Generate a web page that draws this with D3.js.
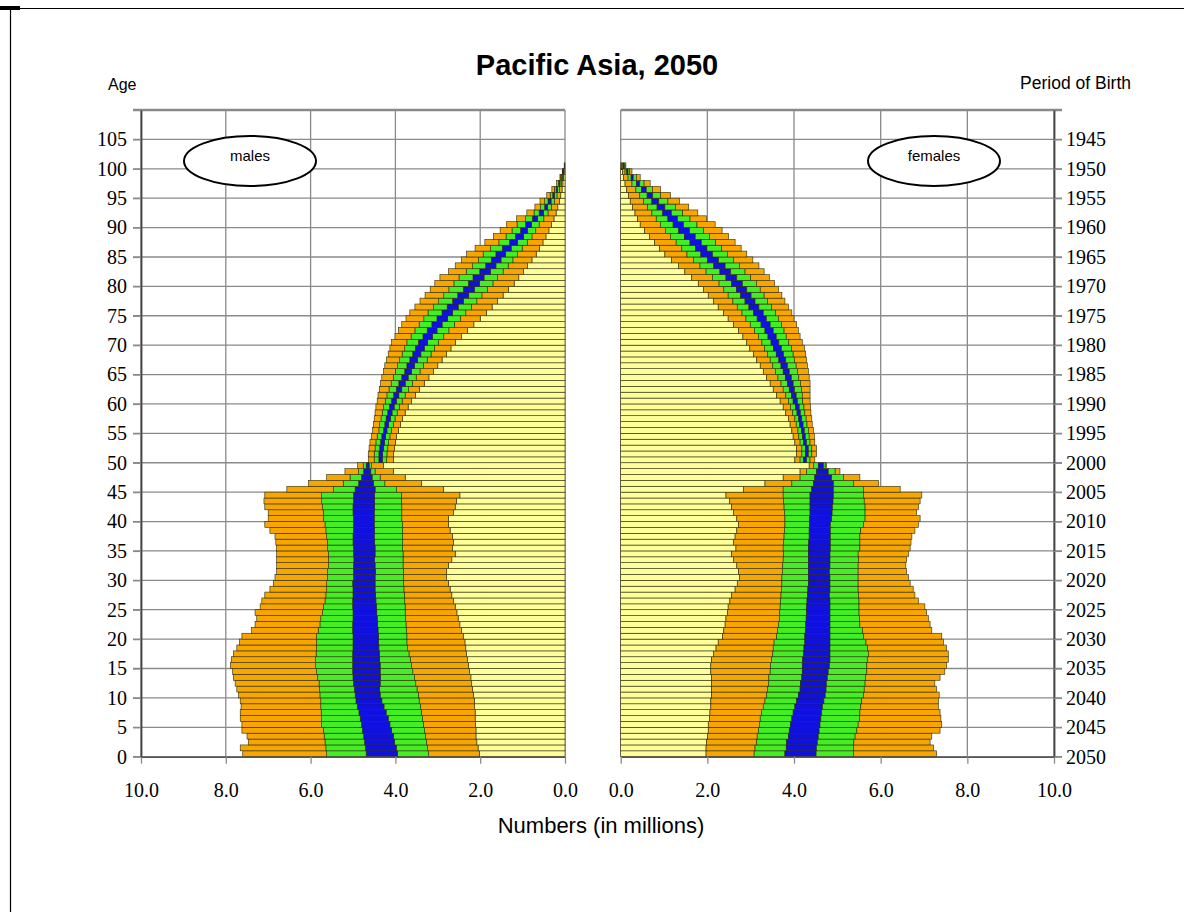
<!DOCTYPE html>
<html><head><meta charset="utf-8">
<script src="https://cdn.jsdelivr.net/npm/d3@7"></script>
<style>body{margin:0;background:#fff}svg{display:block}</style>
</head><body>
<svg id="chart" width="1184" height="912"></svg>
<script>
// ---------- DATA ----------
const ages = d3.range(0, 101);
const ageTicks = d3.range(0, 110, 5);
const birthLabels = ["2050","2045","2040","2035","2030","2025","2020","2015","2010","2005","2000",
  "1995","1990","1985","1980","1975","1970","1965","1960","1955","1950","1945"];
const xTicks = [0, 2, 4, 6, 8, 10];

// males: boundaries of the stacked bands (millions), from the axis outward
const maleL1 = [2.02,2.05,2.08,2.10,2.10,2.11,2.12,2.12,2.13,2.14, 2.16,2.18,2.20,2.22,2.25,2.28,2.30,2.32,2.34,2.36,
 2.40,2.44,2.48,2.52,2.55,2.59,2.63,2.67,2.71,2.75, 2.79,2.79,2.75,2.67,2.59,2.65,2.63,2.65,2.71,2.75,
 2.75,2.63,2.59,2.56,2.48,2.87,3.38,3.77,4.05,4.28,
 4.05,4.04,4.02,4.00,3.97,3.93,3.88,3.83,3.77,3.70, 3.62,3.53,3.43,3.32,3.21,3.10,3.00,2.90,2.79,2.69,
 2.58,2.44,2.30,2.15,2.00,1.85,1.72,1.59,1.46,1.33, 1.20,1.09,0.98,0.88,0.78,0.68,0.60,0.52,0.45,0.38,
 0.32,0.26,0.21,0.17,0.13,0.10,0.07,0.05,0.03,0.02, 0.01];
const maleL2 = [3.22,3.24,3.27,3.29,3.31,3.34,3.36,3.39,3.41,3.44, 3.46,3.49,3.52,3.55,3.59,3.62,3.65,3.68,3.71,3.73,
 3.73,3.74,3.75,3.76,3.77,3.77,3.78,3.79,3.80,3.81, 3.81,3.81,3.82,3.82,3.82,3.83,3.83,3.83,3.83,3.83,
 3.85,3.85,3.85,3.86,3.86,3.97,4.25,4.36,4.48,4.56,
 4.21,4.20,4.18,4.16,4.13,4.09,4.05,4.01,3.96,3.91, 3.84,3.77,3.69,3.60,3.51,3.42,3.34,3.25,3.16,3.08,
 2.99,2.86,2.74,2.61,2.47,2.34,2.21,2.08,1.96,1.83, 1.70,1.59,1.46,1.34,1.23,1.12,1.01,0.89,0.78,0.69,
 0.61,0.50,0.40,0.32,0.25,0.19,0.13,0.09,0.05,0.03, 0.01];
const maleL3 = [3.95,3.98,4.02,4.05,4.09,4.13,4.17,4.22,4.27,4.32, 4.36,4.37,4.36,4.35,4.36,4.36,4.37,4.38,4.39,4.40,
 4.40,4.41,4.42,4.43,4.44,4.45,4.46,4.47,4.48,4.48, 4.48,4.47,4.48,4.49,4.48,4.48,4.49,4.50,4.49,4.50,
 4.50,4.50,4.49,4.49,4.49,4.48,4.52,4.55,4.58,4.62,
 4.31,4.30,4.28,4.26,4.23,4.20,4.16,4.12,4.08,4.03, 3.98,3.92,3.85,3.77,3.70,3.62,3.55,3.48,3.40,3.32,
 3.24,3.13,3.02,2.90,2.77,2.65,2.52,2.40,2.27,2.14, 2.02,1.91,1.76,1.63,1.51,1.40,1.27,1.12,0.98,0.89,
 0.79,0.65,0.51,0.41,0.33,0.25,0.18,0.12,0.07,0.04, 0.01];
const maleU3 = [4.69,4.71,4.73,4.75,4.78,4.80,4.83,4.86,4.90,4.93, 4.95,4.97,4.99,5.00,5.01,5.01,5.01,5.01,5.00,5.00,
 5.00,5.01,5.01,5.00,5.00,5.01,5.01,5.00,5.00,5.01, 4.99,4.99,4.99,4.98,4.99,4.99,5.00,5.00,4.99,4.99,
 4.99,5.00,5.00,4.99,4.99,4.95,4.87,4.80,4.75,4.69,
 4.39,4.39,4.37,4.35,4.32,4.28,4.25,4.22,4.18,4.14, 4.09,4.04,3.98,3.92,3.85,3.78,3.73,3.66,3.59,3.53,
 3.46,3.35,3.25,3.14,3.02,2.90,2.78,2.65,2.53,2.40, 2.28,2.17,2.01,1.87,1.74,1.63,1.48,1.31,1.17,1.05,
 0.93,0.77,0.61,0.48,0.40,0.29,0.21,0.14,0.08,0.04, 0.02];
const maleU2 = [5.62,5.64,5.66,5.68,5.70,5.74,5.74,5.75,5.76,5.76, 5.78,5.79,5.80,5.84,5.86,5.88,5.88,5.87,5.86,5.86,
 5.86,5.82,5.78,5.76,5.72,5.70,5.66,5.64,5.62,5.62, 5.60,5.60,5.58,5.58,5.58,5.60,5.60,5.62,5.64,5.66,
 5.70,5.70,5.72,5.74,5.74,5.46,5.23,5.07,4.87,4.76,
 4.50,4.50,4.48,4.46,4.43,4.39,4.37,4.34,4.31,4.28, 4.24,4.20,4.15,4.10,4.05,4.00,3.95,3.90,3.84,3.78,
 3.73,3.63,3.54,3.44,3.33,3.23,3.10,2.98,2.86,2.74, 2.62,2.50,2.33,2.18,2.04,1.93,1.76,1.56,1.39,1.25,
 1.13,0.93,0.73,0.58,0.48,0.35,0.25,0.16,0.10,0.05, 0.02];
const maleU1 = [7.60,7.66,7.47,7.50,7.62,7.62,7.66,7.66,7.64,7.66, 7.70,7.74,7.78,7.82,7.84,7.89,7.87,7.82,7.74,7.68,
 7.62,7.39,7.31,7.27,7.31,7.19,7.15,7.08,6.96,6.88, 6.84,6.80,6.80,6.80,6.80,6.80,6.82,6.84,6.96,7.08,
 7.00,7.00,7.08,7.10,7.08,6.56,6.05,5.62,5.19,4.89,
 4.64,4.64,4.62,4.60,4.57,4.54,4.52,4.50,4.48,4.46, 4.43,4.41,4.38,4.35,4.32,4.28,4.25,4.21,4.17,4.13,
 4.09,4.01,3.93,3.85,3.75,3.66,3.54,3.42,3.30,3.18, 3.07,2.95,2.75,2.59,2.44,2.32,2.12,1.89,1.69,1.53,
 1.38,1.14,0.90,0.71,0.59,0.43,0.31,0.20,0.12,0.06, 0.02];

// females
const femaleL1 = [1.97,1.97,1.98,2.00,2.02,2.02,2.05,2.06,2.08,2.08, 2.10,2.10,2.10,2.10,2.08,2.08,2.10,2.14,2.20,2.25,
 2.35,2.38,2.41,2.43,2.46,2.48,2.52,2.56,2.64,2.69, 2.74,2.72,2.68,2.60,2.56,2.66,2.60,2.64,2.68,2.72,
 2.68,2.60,2.56,2.51,2.43,2.83,3.33,3.75,4.14,4.35,
 4.02,4.06,4.06,4.02,3.98,3.95,3.91,3.87,3.81,3.75, 3.68,3.60,3.52,3.45,3.37,3.29,3.22,3.14,3.06,2.98,
 2.91,2.82,2.72,2.60,2.48,2.37,2.25,2.14,2.02,1.91, 1.79,1.64,1.48,1.33,1.17,1.02,0.90,0.78,0.66,0.55,
 0.45,0.39,0.33,0.27,0.22,0.18,0.14,0.10,0.07,0.04, 0.02];
const femaleL2 = [3.08,3.10,3.14,3.15,3.18,3.20,3.22,3.25,3.29,3.33, 3.37,3.39,3.41,3.42,3.45,3.46,3.48,3.51,3.52,3.54,
 3.60,3.62,3.64,3.66,3.67,3.68,3.69,3.70,3.71,3.72, 3.72,3.73,3.74,3.75,3.76,3.75,3.76,3.77,3.78,3.79,
 3.79,3.78,3.77,3.76,3.75,3.75,3.95,4.14,4.29,4.45,
 4.14,4.18,4.18,4.14,4.11,4.09,4.05,4.02,3.97,3.92, 3.87,3.81,3.75,3.70,3.63,3.57,3.51,3.45,3.39,3.32,
 3.26,3.18,3.09,2.99,2.89,2.80,2.69,2.59,2.48,2.38, 2.27,2.12,1.97,1.83,1.68,1.53,1.41,1.28,1.15,1.03,
 0.92,0.82,0.72,0.62,0.53,0.44,0.35,0.26,0.17,0.10, 0.05];
const femaleL3 = [3.79,3.82,3.83,3.87,3.89,3.92,3.95,3.98,4.02,4.06, 4.10,4.14,4.15,4.18,4.19,4.19,4.20,4.22,4.23,4.25,
 4.25,4.26,4.27,4.28,4.29,4.29,4.30,4.31,4.32,4.33, 4.33,4.33,4.33,4.33,4.33,4.33,4.34,4.35,4.35,4.36,
 4.36,4.37,4.37,4.37,4.37,4.41,4.45,4.48,4.52,4.56,
 4.22,4.26,4.26,4.22,4.20,4.17,4.13,4.11,4.07,4.03, 3.98,3.94,3.89,3.85,3.80,3.75,3.70,3.65,3.59,3.53,
 3.47,3.40,3.33,3.24,3.15,3.07,2.96,2.87,2.77,2.67, 2.56,2.43,2.29,2.15,2.00,1.85,1.73,1.60,1.47,1.34,
 1.21,1.09,0.97,0.84,0.72,0.61,0.48,0.36,0.24,0.14, 0.06];
const femaleU3 = [4.51,4.52,4.54,4.56,4.58,4.60,4.62,4.64,4.66,4.69, 4.72,4.74,4.75,4.77,4.79,4.82,4.83,4.83,4.83,4.83,
 4.83,4.83,4.83,4.83,4.83,4.83,4.83,4.82,4.83,4.83, 4.83,4.82,4.83,4.83,4.83,4.84,4.84,4.84,4.84,4.84,
 4.87,4.88,4.89,4.90,4.91,4.91,4.91,4.87,4.79,4.68,
 4.29,4.33,4.33,4.29,4.26,4.24,4.21,4.18,4.15,4.12, 4.08,4.05,4.01,3.98,3.94,3.89,3.85,3.81,3.76,3.71,
 3.65,3.59,3.52,3.45,3.36,3.29,3.19,3.10,3.01,2.91, 2.81,2.68,2.54,2.41,2.26,2.12,1.99,1.86,1.72,1.59,
 1.45,1.31,1.17,1.02,0.88,0.74,0.59,0.44,0.29,0.17, 0.08];
const femaleU2 = [5.37,5.37,5.38,5.41,5.45,5.48,5.51,5.52,5.54,5.56, 5.60,5.62,5.64,5.65,5.68,5.68,5.69,5.72,5.70,5.66,
 5.60,5.58,5.52,5.51,5.50,5.50,5.50,5.49,5.48,5.48, 5.48,5.48,5.48,5.49,5.48,5.52,5.52,5.52,5.54,5.60,
 5.64,5.64,5.64,5.62,5.60,5.60,5.37,5.14,4.95,4.72,
 4.37,4.41,4.41,4.37,4.35,4.33,4.30,4.28,4.25,4.23, 4.20,4.19,4.17,4.15,4.11,4.08,4.05,4.01,3.98,3.94,
 3.88,3.82,3.77,3.71,3.64,3.57,3.48,3.39,3.31,3.22, 3.13,3.00,2.87,2.74,2.60,2.46,2.33,2.19,2.05,1.91,
 1.76,1.60,1.43,1.26,1.09,0.92,0.73,0.54,0.36,0.21, 0.10];
const femaleU1 = [7.29,7.22,7.14,7.18,7.37,7.41,7.39,7.37,7.33,7.33, 7.35,7.29,7.25,7.37,7.48,7.52,7.56,7.56,7.52,7.45,
 7.41,7.18,7.14,7.10,7.06,7.02,6.87,6.79,6.75,6.68, 6.64,6.60,6.58,6.60,6.64,6.68,6.70,6.72,6.79,6.87,
 6.91,6.83,6.87,6.91,6.95,6.45,5.95,5.52,5.06,4.75,
 4.48,4.52,4.52,4.48,4.47,4.45,4.42,4.41,4.39,4.38, 4.37,4.37,4.37,4.37,4.35,4.33,4.31,4.29,4.27,4.24,
 4.19,4.14,4.10,4.06,4.00,3.95,3.87,3.79,3.72,3.64, 3.55,3.43,3.31,3.19,3.05,2.91,2.78,2.64,2.49,2.34,
 2.18,1.98,1.78,1.57,1.36,1.15,0.92,0.68,0.45,0.26, 0.12];

// ---------- STYLE ----------
const bandColors = ["#FFFF99", "#F7A600", "#44EE22", "#1010E0", "#44EE22", "#F7A600"];
const gridColor = "#8a8a8a";
const serif = "'Liberation Serif','Times New Roman',serif";
const sans = "'Liberation Sans',Arial,sans-serif";

const svg = d3.select("#chart");

// page frame
svg.append("line").attr("x1", 0).attr("x2", 1184).attr("y1", 8.5).attr("y2", 8.5).attr("stroke", "#000").attr("stroke-width", 1);
svg.append("rect").attr("x", 0).attr("y", 6).attr("width", 20).attr("height", 4).attr("fill", "#000");
svg.append("line").attr("x1", 10.5).attr("x2", 10.5).attr("y1", 8).attr("y2", 912).attr("stroke", "#000").attr("stroke-width", 1.2);

// scales
const y = d3.scaleLinear().domain([0, 110]).range([756.7, 110]);
const xM = d3.scaleLinear().domain([0, 10]).range([565, 141]);
const xF = d3.scaleLinear().domain([0, 10]).range([620.7, 1054]);

function panel(x, bands, side) {
  const g = svg.append("g");
  const x0 = x(0), x10 = x(10);
  const lo = Math.min(x0, x10), hi = Math.max(x0, x10);
  const gx1 = side === "left" ? lo - 8 : lo;
  const gx2 = side === "left" ? hi : hi + 8;
  g.selectAll(".hg").data(ageTicks.concat([110])).join("line")
    .attr("x1", gx1).attr("x2", gx2)
    .attr("y1", d => y(d)).attr("y2", d => y(d))
    .attr("stroke", gridColor).attr("stroke-width", d => d === 110 ? 2.5 : 1.3);
  g.selectAll(".vg").data(xTicks).join("line")
    .attr("x1", d => x(d)).attr("x2", d => x(d))
    .attr("y1", y(110)).attr("y2", y(0))
    .attr("stroke", gridColor).attr("stroke-width", 1.3);

  const rows = ages.map(a => {
    const b = [0].concat(bands.map(arr => arr[a]));
    return { a, segs: d3.range(6).map(i => ({ lo: b[i], hi: b[i + 1], c: bandColors[i] })) };
  });
  const rg = g.selectAll(".row").data(rows).join("g");
  rg.selectAll("rect").data(r => r.segs.map(s => Object.assign({ a: r.a }, s))).join("rect")
    .attr("x", d => Math.min(x(d.lo), x(d.hi)))
    .attr("width", d => Math.abs(x(d.hi) - x(d.lo)))
    .attr("y", d => y(d.a + 1))
    .attr("height", d => y(d.a) - y(d.a + 1))
    .attr("fill", d => d.c)
    .attr("stroke", "#2a2a10").attr("stroke-width", 0.6);

  const ax = g.append("g").attr("transform", `translate(0,${y(0)})`)
    .call(d3.axisBottom(x).tickValues(xTicks).tickFormat(d3.format(".1f")).tickSize(7).tickSizeOuter(0).tickPadding(19));
  ax.select(".domain").attr("stroke", "#555").attr("stroke-width", 1.5);
  ax.selectAll(".tick line").attr("stroke", gridColor).attr("stroke-width", 1.3);
  ax.selectAll("text").attr("font-family", serif).attr("font-size", 20).attr("fill", "#000");
}

panel(xM, [maleL1, maleL2, maleL3, maleU3, maleU2, maleU1], "left");
panel(xF, [femaleL1, femaleL2, femaleL3, femaleU3, femaleU2, femaleU1], "right");

const ay = svg.append("g").attr("transform", "translate(141,0)")
  .call(d3.axisLeft(y).tickValues(ageTicks).tickSize(8).tickSizeOuter(0).tickPadding(6));
ay.select(".domain").attr("stroke", "#444").attr("stroke-width", 1.8);
ay.selectAll(".tick line").attr("stroke", gridColor).attr("stroke-width", 1.3);
ay.selectAll("text").attr("font-family", serif).attr("font-size", 20).attr("fill", "#000");

const ayr = svg.append("g").attr("transform", "translate(1054,0)")
  .call(d3.axisRight(y).tickValues(ageTicks).tickFormat((d, i) => birthLabels[i]).tickSize(8).tickSizeOuter(0).tickPadding(4));
ayr.select(".domain").attr("stroke", "#444").attr("stroke-width", 1.8);
ayr.selectAll(".tick line").attr("stroke", gridColor).attr("stroke-width", 1.3);
ayr.selectAll("text").attr("font-family", serif).attr("font-size", 20).attr("fill", "#000");

svg.append("text").attr("x", 597).attr("y", 75).attr("text-anchor", "middle")
  .attr("font-family", sans).attr("font-weight", "bold").attr("font-size", 29).text("Pacific Asia, 2050");
svg.append("text").attr("x", 108).attr("y", 90).attr("font-family", sans).attr("font-size", 16).text("Age");
svg.append("text").attr("x", 1131).attr("y", 89).attr("text-anchor", "end").attr("font-family", sans).attr("font-size", 17.5).text("Period of Birth");
svg.append("text").attr("x", 601).attr("y", 833).attr("text-anchor", "middle").attr("font-family", sans).attr("font-size", 22).text("Numbers (in millions)");

[{ cx: 250, t: "males" }, { cx: 934, t: "females" }].forEach(d => {
  svg.append("ellipse").attr("cx", d.cx).attr("cy", 161).attr("rx", 66).attr("ry", 25)
    .attr("fill", "#fff").attr("stroke", "#000").attr("stroke-width", 2);
  svg.append("text").attr("x", d.cx).attr("y", 161).attr("text-anchor", "middle")
    .attr("font-family", sans).attr("font-size", 15).text(d.t);
});
</script>
</body></html>
